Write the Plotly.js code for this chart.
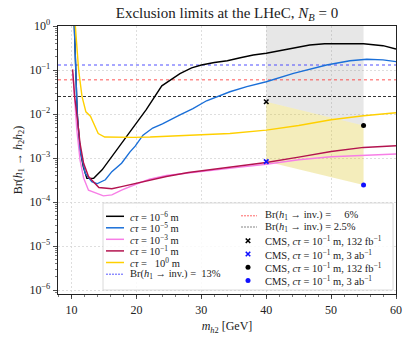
<!DOCTYPE html>
<html>
<head>
<meta charset="utf-8">
<script src="https://cdn.plot.ly/plotly-3.0.1.min.js"></script>
<style>
  html, body { margin: 0; padding: 0; background: #fff; }
  #chart { width: 411px; height: 339px; }
</style>
</head>
<body>
<div id="chart"></div>
<script>
// ---- values ----
// m_h2 [GeV] and Br(h1 -> h2 h2) for each c*tau curve
const massCt6 = [10.35, 10.6, 10.86, 11.3, 11.8, 12.35, 13.4, 14.7, 16.2, 17.7, 19.0, 19.8, 21.5, 23.9, 26.7, 28.5, 30.0, 32.0, 34.0, 36.0, 38.0, 40.0, 43.0, 46.7, 49.0, 51.0, 55.0, 58.0, 59.6, 60.0];
const brCt6   = [2.0, 0.141, 0.0105, 0.0015, 6.3e-4, 3.45e-4, 3.45e-4, 5.4e-4, 1.07e-3, 2.1e-3, 3.8e-3, 5.6e-3, 0.0126, 0.0437, 0.083, 0.112, 0.13, 0.148, 0.162, 0.19, 0.219, 0.24, 0.29, 0.37, 0.395, 0.40, 0.395, 0.357, 0.31, 0.30];

const massCt5 = [10.35, 10.6, 10.86, 11.3, 12.1, 13.1, 13.9, 15.2, 16.2, 17.7, 19.0, 19.8, 21.0, 22.5, 24.0, 26.7, 28.7, 30.8, 34.4, 37.0, 40.0, 44.2, 49.3, 52.9, 55.5, 58.0, 60.0];
const brCt5   = [2.0, 0.141, 0.0105, 0.0015, 4.5e-4, 2.9e-4, 2.6e-4, 3.2e-4, 4.9e-4, 7.6e-4, 1.38e-3, 1.86e-3, 3.3e-3, 4.8e-3, 6.0e-3, 9.5e-3, 0.0132, 0.02, 0.032, 0.042, 0.054, 0.084, 0.13, 0.162, 0.175, 0.17, 0.155];

const massCt3 = [10.2, 10.45, 10.66, 10.8, 11.3, 11.85, 12.6, 13.85, 14.9, 16.2, 17.7, 19.8, 22.0, 24.6, 28.0, 32.0, 36.0, 40.0, 45.0, 50.0, 55.0, 60.0];
const brCt3   = [0.083, 0.0224, 7.2e-3, 4.4e-3, 8.9e-4, 3.5e-4, 1.86e-4, 1.58e-4, 1.38e-4, 1.45e-4, 1.86e-4, 2.5e-4, 3.3e-4, 4.0e-4, 4.6e-4, 5.4e-4, 6.2e-4, 7.2e-4, 9.1e-4, 1.07e-3, 1.17e-3, 1.23e-3];

const massCt1 = [10.15, 10.46, 10.8, 11.3, 11.85, 12.6, 14.2, 16.2, 17.7, 19.8, 22.0, 24.6, 28.0, 31.0, 34.9, 40.0, 45.0, 50.0, 55.0, 60.0];
const brCt1   = [0.1035, 0.0251, 0.01, 2.14e-3, 7.6e-4, 3.8e-4, 2.14e-4, 2.0e-4, 2.24e-4, 2.66e-4, 3.16e-4, 3.8e-4, 4.7e-4, 5.4e-4, 6.3e-4, 7.9e-4, 1.05e-3, 1.41e-3, 1.74e-3, 1.9e-3];

const massCt0 = [10.42, 10.56, 11.08, 11.6, 12.2, 12.9, 14.1, 15.1, 17.0, 19.5, 22.1, 26.0, 30.0, 34.4, 40.0, 45.0, 50.0, 55.0, 60.0];
const brCt0   = [2.0, 1.0, 0.1, 0.0251, 0.0112, 8.9e-3, 3.6e-3, 3.0e-3, 2.95e-3, 2.95e-3, 3.0e-3, 3.16e-3, 3.3e-3, 3.6e-3, 4.3e-3, 5.5e-3, 7.4e-3, 9.1e-3, 0.0107];

// Br(h1 -> inv.) limits: 13%, 6%, 2.5%
const invBr = [0.13, 0.06, 0.025];

// CMS points: [132 fb^-1 x, 3 ab^-1 x, 132 fb^-1 o, 3 ab^-1 o]
const cmsMass = [40, 40, 55, 55];
const cmsBr   = [0.019, 8.3e-4, 0.0055, 2.45e-4];

const xTickVals = [10, 20, 30, 40, 50, 60];
const yTickVals = [1e-6, 1e-5, 1e-4, 1e-3, 1e-2, 1e-1, 1];
const yTickText = ["10<sup>−6</sup>", "10<sup>−5</sup>", "10<sup>−4</sup>", "10<sup>−3</sup>", "10<sup>−2</sup>", "10<sup>−1</sup>", "10<sup>0</sup>"];

// ---- styling ----
const FONT = '"Liberation Serif", "DejaVu Serif", serif';
const X_RANGE = [7.9, 60];

const curves = [
  { m: massCt6, br: brCt6, color: "#000000", label: "<i>cτ</i> = 10<sup>−6</sup> m" },
  { m: massCt5, br: brCt5, color: "#1a6fd8", label: "<i>cτ</i> = 10<sup>−5</sup> m" },
  { m: massCt3, br: brCt3, color: "#f77ee6", label: "<i>cτ</i> = 10<sup>−3</sup> m" },
  { m: massCt1, br: brCt1, color: "#b3134f", label: "<i>cτ</i> = 10<sup>−1</sup> m" },
  { m: massCt0, br: brCt0, color: "#ffd000", label: "<i>cτ</i> = \u00a0\u00a010<sup>0</sup> m" }
];

const invStyles = [
  { color: "rgba(60,60,255,0.6)", dash: "dot", width: 1.3, label: "Br(<i>h</i><sub>1</sub> → inv.) = \u00a013%" },
  { color: "rgba(255,50,50,0.55)", dash: "dot", width: 1.3, label: "Br(<i>h</i><sub>1</sub> → inv.) = \u00a0\u00a0\u00a0\u00a06%" },
  { color: "#000000", dash: "3px,2px", width: 0.8, label: "Br(<i>h</i><sub>1</sub> → inv.) = 2.5%" }
];

const cmsStyles = [
  { color: "#000000", symbol: "x-thin-open", size: 4.5, lw: 1.6, label: "CMS, <i>cτ</i> = 10<sup>−1</sup> m, 132 fb<sup>−1</sup>" },
  { color: "#1010ff", symbol: "x-thin-open", size: 4.5, lw: 1.6, label: "CMS, <i>cτ</i> = 10<sup>−1</sup> m, 3 ab<sup>−1</sup>" },
  { color: "#000000", symbol: "circle", size: 5, lw: 0, label: "CMS, <i>cτ</i> = 10<sup>−1</sup> m, 132 fb<sup>−1</sup>" },
  { color: "#1010ff", symbol: "circle", size: 5, lw: 0, label: "CMS, <i>cτ</i> = 10<sup>−1</sup> m, 3 ab<sup>−1</sup>" }
];

const traces = [];

// shaded CMS regions
traces.push({
  type: "scatter", mode: "lines",
  x: [cmsMass[0], cmsMass[2], cmsMass[2], cmsMass[0]],
  y: [1, 1, cmsBr[2], cmsBr[0]],
  fill: "toself", fillcolor: "rgba(128,128,128,0.19)",
  line: { width: 0 }, showlegend: false, hoverinfo: "skip"
});
traces.push({
  type: "scatter", mode: "lines",
  x: [cmsMass[0], cmsMass[2], cmsMass[2], cmsMass[0]],
  y: [cmsBr[0], cmsBr[2], cmsBr[3], cmsBr[1]],
  fill: "toself", fillcolor: "rgba(220,195,30,0.3)",
  line: { width: 0 }, showlegend: false, hoverinfo: "skip"
});

// horizontal Br(h1 -> inv.) limits
invBr.forEach((v, i) => {
  traces.push({
    type: "scatter", mode: "lines",
    x: X_RANGE, y: [v, v],
    line: { color: invStyles[i].color, dash: invStyles[i].dash, width: invStyles[i].width },
    showlegend: false, hoverinfo: "skip"
  });
});

// c*tau curves
curves.forEach(c => {
  traces.push({
    type: "scatter", mode: "lines",
    x: c.m, y: c.br,
    line: { color: c.color, width: 1.4 },
    showlegend: false, hoverinfo: "skip"
  });
});

// CMS markers
cmsMass.forEach((m, i) => {
  const s = cmsStyles[i];
  traces.push({
    type: "scatter", mode: "markers",
    x: [m], y: [cmsBr[i]],
    marker: { color: s.color, symbol: s.symbol, size: s.size, line: { color: s.color, width: s.lw } },
    showlegend: false, hoverinfo: "skip"
  });
});

// ---- hand-made legend on an overlay axis measured in pixels of the plot area ----
const LEG_BOX = { x0: 103, x1: 393, y0: 203, y1: 290 };
const leftRows  = [216.3, 227.8, 239.3, 250.9, 262.5, 274.2];
const rightRows = [215.8, 227.0, 240.8, 254.0, 267.2, 280.6];
const annotations = [];

traces.push({
  type: "scatter", mode: "lines", xaxis: "x2", yaxis: "y2",
  x: [LEG_BOX.x0, LEG_BOX.x1, LEG_BOX.x1, LEG_BOX.x0, LEG_BOX.x0],
  y: [LEG_BOX.y0, LEG_BOX.y0, LEG_BOX.y1, LEG_BOX.y1, LEG_BOX.y0],
  fill: "toself", fillcolor: "rgba(255,255,255,0.85)",
  line: { color: "#d0d0d0", width: 0.8 }, showlegend: false, hoverinfo: "skip"
});

function legendText(x, y, text) {
  annotations.push({
    xref: "x2", yref: "y2", x: x, y: y, text: text, showarrow: false,
    xanchor: "left", yanchor: "middle", font: { family: FONT, size: 10.5, color: "#222" }
  });
}

curves.forEach((c, i) => {
  traces.push({
    type: "scatter", mode: "lines", xaxis: "x2", yaxis: "y2",
    x: [106, 124], y: [leftRows[i], leftRows[i]],
    line: { color: c.color, width: 1.5 }, showlegend: false, hoverinfo: "skip"
  });
  legendText(128, leftRows[i], c.label);
});
traces.push({
  type: "scatter", mode: "lines", xaxis: "x2", yaxis: "y2",
  x: [106, 124], y: [leftRows[5], leftRows[5]],
  line: { color: "#3030ff", width: 0.8, dash: "2px,1px" }, showlegend: false, hoverinfo: "skip"
});
legendText(128, leftRows[5], invStyles[0].label);

[1, 2].forEach((k, j) => {
  traces.push({
    type: "scatter", mode: "lines", xaxis: "x2", yaxis: "y2",
    x: [241, 257], y: [rightRows[j], rightRows[j]],
    line: { color: k === 1 ? "#ff4040" : "#666", width: 0.8, dash: "2px,1px" },
    showlegend: false, hoverinfo: "skip"
  });
  legendText(263, rightRows[j], invStyles[k].label);
});
cmsStyles.forEach((s, i) => {
  traces.push({
    type: "scatter", mode: "markers", xaxis: "x2", yaxis: "y2",
    x: [248], y: [rightRows[i + 2]],
    marker: { color: s.color, symbol: s.symbol, size: s.size, line: { color: s.color, width: s.lw } },
    showlegend: false, hoverinfo: "skip"
  });
  legendText(263, rightRows[i + 2], s.label);
});

// minor ticks for the log axis
const yMinor = [];
for (let d = -7; d <= 0; d++) {
  for (let k = 2; k <= 9; k++) {
    const v = k * Math.pow(10, d);
    if (v > 8e-7 && v < 1) yMinor.push(v);
  }
}

const layout = {
  width: 411, height: 339,
  margin: { l: 58, r: 15, t: 26, b: 45 },
  paper_bgcolor: "#fff", plot_bgcolor: "#fff",
  showlegend: false,
  font: { family: FONT, size: 12, color: "#222" },
  title: {
    text: "Exclusion limits at the LHeC, <i>N</i><sub><i>B</i></sub> = 0",
    font: { family: FONT, size: 15, color: "#222" },
    x: 0.5, xref: "paper", xanchor: "center",
    y: 1 - 13 / 339, yref: "container", yanchor: "middle"
  },
  xaxis: {
    range: X_RANGE, tickvals: xTickVals,
    ticks: "outside", ticklen: 4, tickwidth: 0.8, tickcolor: "#222",
    showline: true, mirror: true, linecolor: "#222", linewidth: 1.3,
    showgrid: true, gridcolor: "#d6d6d6", griddash: "2px,2px", gridwidth: 0.8,
    zeroline: false,
    minor: { ticks: "outside", ticklen: 2, tickwidth: 0.6, tickcolor: "#222", dtick: 2, tick0: 0, showgrid: false },
    tickfont: { family: FONT, size: 12 },
    title: { text: "<i>m</i><sub><i>h</i>2</sub> [GeV]", font: { family: FONT, size: 12 }, standoff: 6 }
  },
  yaxis: {
    type: "log", range: [-6.09, 0],
    tickvals: yTickVals, ticktext: yTickText,
    ticks: "outside", ticklen: 4, tickwidth: 0.8, tickcolor: "#222",
    showline: true, mirror: true, linecolor: "#222", linewidth: 1.3,
    showgrid: true, gridcolor: "#d6d6d6", griddash: "2px,2px", gridwidth: 0.8,
    zeroline: false,
    minor: { ticks: "outside", ticklen: 2, tickwidth: 0.6, tickcolor: "#222", tickvals: yMinor, showgrid: false },
    tickfont: { family: FONT, size: 12 },
    title: { text: "Br(<i>h</i><sub>1</sub> → <i>h</i><sub>2</sub><i>h</i><sub>2</sub>)", font: { family: FONT, size: 12 }, standoff: 4 }
  },
  xaxis2: { overlaying: "x", anchor: "y2", range: [58, 396], visible: false, fixedrange: true },
  yaxis2: { overlaying: "y", anchor: "x2", range: [294, 26], visible: false, fixedrange: true },
  annotations: annotations
};

Plotly.newPlot("chart", traces, layout, { staticPlot: true, displayModeBar: false });
</script>
</body>
</html>
